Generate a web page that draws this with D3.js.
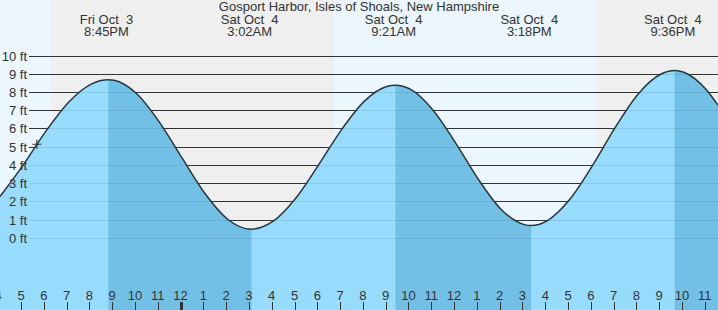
<!DOCTYPE html>
<html>
<head>
<meta charset="utf-8">
<title>Gosport Harbor tides</title>
<style>
body { margin: 0; background: #fff; }
svg { display: block; font-family: "Liberation Sans", Arial, sans-serif; }
</style>
<script src="https://cdn.jsdelivr.net/npm/d3@7"></script>
</head>
<body>
<svg id="chart" width="718" height="310"></svg>
<script>
const title = "Gosport Harbor, Isles of Shoals, New Hampshire";

// tide height (local time, feet)
const curveTimes = [
  "2025-10-03 16:00", "2025-10-03 17:00", "2025-10-03 18:00", "2025-10-03 19:00",
  "2025-10-03 20:00", "2025-10-03 20:45", "2025-10-03 21:00", "2025-10-03 22:00",
  "2025-10-03 23:00", "2025-10-04 00:00", "2025-10-04 01:00", "2025-10-04 02:00",
  "2025-10-04 03:00", "2025-10-04 03:02", "2025-10-04 04:00", "2025-10-04 05:00",
  "2025-10-04 06:00", "2025-10-04 07:00", "2025-10-04 08:00", "2025-10-04 09:00",
  "2025-10-04 09:21", "2025-10-04 10:00", "2025-10-04 11:00", "2025-10-04 12:00",
  "2025-10-04 13:00", "2025-10-04 14:00", "2025-10-04 15:00", "2025-10-04 15:18",
  "2025-10-04 16:00", "2025-10-04 17:00", "2025-10-04 18:00", "2025-10-04 19:00",
  "2025-10-04 20:00", "2025-10-04 21:00", "2025-10-04 21:36", "2025-10-04 22:00",
  "2025-10-04 23:00", "2025-10-04 23:30"
];
const curveHeights = [
  2.29, 3.99, 5.85, 7.45,
  8.46, 8.7, 8.67, 7.93,
  6.36, 4.38, 2.44, 1.03,
  0.5, 0.5, 0.95, 2.24,
  4.07, 5.99, 7.54, 8.34,
  8.4, 8.18, 7.03, 5.21,
  3.21, 1.57, 0.75, 0.7,
  0.96, 2.14, 4.0, 6.1,
  7.92, 9.01, 9.2, 9.11,
  8.13, 7.29
];

// high and low tide labels
const eventTimes = ["2025-10-03 20:45", "2025-10-04 03:02", "2025-10-04 09:21", "2025-10-04 15:18", "2025-10-04 21:36"];
const eventDays = ["Fri Oct  3", "Sat Oct  4", "Sat Oct  4", "Sat Oct  4", "Sat Oct  4"];
const eventClock = ["8:45PM", "3:02AM", "9:21AM", "3:18PM", "9:36PM"];

// night (sunset to sunrise)
const nightStarts = ["2025-10-03 18:14", "2025-10-04 18:11"];
const nightEnds = ["2025-10-04 06:39", "2025-10-04 23:30"];

// falling tide (high to low) drawn darker
const fallStarts = ["2025-10-03 20:45", "2025-10-04 09:21", "2025-10-04 21:36"];
const fallEnds = ["2025-10-04 03:02", "2025-10-04 15:18", "2025-10-04 23:30"];

const feetTicks = [0, 1, 2, 3, 4, 5, 6, 7, 8, 9, 10];
const markerTime = "2025-10-03 17:37";
const markerHeight = 5.16;

const width = 718, height = 310;
const parse = d3.timeParse("%Y-%m-%d %H:%M");
const labelShift = -1.8;
const fontSize = 13;

let x = d3.scaleTime()
  .domain([parse("2025-10-03 16:00"), parse("2025-10-04 23:30")])
  .range([0, width]);
let y = d3.scaleLinear().domain([0, 10]).range([238.3, 56]);

let svg = d3.select("#chart");
let points = curveTimes.map((t, i) => [parse(t), curveHeights[i]]);

// background: day and night
svg.append("rect").attr("width", width).attr("height", height).attr("fill", "#ebf6fe");
svg.selectAll(".night").data(nightStarts).join("rect")
  .attr("x", d => x(parse(d)))
  .attr("y", 0)
  .attr("width", (d, i) => x(parse(nightEnds[i])) - x(parse(d)))
  .attr("height", height)
  .attr("fill", "#efefef");

// foot lines
let rowY = d => Math.floor(y(d)) + 0.5;
svg.selectAll(".grid").data(feetTicks).join("line")
  .attr("x1", 29).attr("x2", width)
  .attr("y1", rowY).attr("y2", rowY)
  .attr("stroke", "#333").attr("stroke-width", 1);

// water
let area = d3.area().x(d => x(d[0])).y0(height).y1(d => y(d[1])).curve(d3.curveMonotoneX);
svg.append("clipPath").attr("id", "water").append("path").attr("d", area(points));
let water = svg.append("g").attr("clip-path", "url(#water)");
water.append("rect").attr("width", width).attr("height", height).attr("fill", "#97dbfd");
water.selectAll(".fall").data(fallStarts).join("rect")
  .attr("x", d => x(parse(d)))
  .attr("width", (d, i) => x(parse(fallEnds[i])) - x(parse(d)))
  .attr("height", height)
  .attr("fill", "#72c0e6");
water.selectAll(".wgrid").data(feetTicks).join("line")
  .attr("x1", 29).attr("x2", width)
  .attr("y1", rowY).attr("y2", rowY)
  .attr("stroke", "#000").attr("stroke-opacity", 0.09);

// tide line
let line = d3.line().x(d => x(d[0])).y(d => y(d[1])).curve(d3.curveMonotoneX);
svg.append("path").attr("d", line(points))
  .attr("fill", "none").attr("stroke", "#333").attr("stroke-width", 1.5);

// foot labels
svg.selectAll(".ylab").data(feetTicks).join("text")
  .attr("x", 27).attr("y", d => y(d)).attr("dy", "0.35em")
  .attr("text-anchor", "end").attr("font-size", fontSize).attr("fill", "#333")
  .text(d => d + " ft");

// current time marker
let mx = x(parse(markerTime)), my = y(markerHeight);
svg.append("path")
  .attr("d", `M${mx - 4.5},${my}H${mx + 4.5}M${mx},${my - 4.5}V${my + 4.5}`)
  .attr("stroke", "#333").attr("stroke-width", 1.2);

// title
svg.append("text").attr("x", width / 2).attr("y", 11)
  .attr("text-anchor", "middle").attr("font-size", fontSize).attr("fill", "#333")
  .text(title);

// high / low labels
let ev = svg.selectAll(".ev").data(eventTimes).join("g")
  .attr("transform", d => `translate(${x(parse(d)) + labelShift},0)`);
ev.append("text").attr("y", 24).attr("text-anchor", "middle")
  .attr("font-size", fontSize).attr("fill", "#333").style("white-space", "pre")
  .text((d, i) => eventDays[i]);
ev.append("text").attr("y", 36).attr("text-anchor", "middle")
  .attr("font-size", fontSize).attr("fill", "#333")
  .text((d, i) => eventClock[i]);

// hour axis
let hours = x.ticks(d3.timeHour.every(1));
let hx = d => Math.round(x(d) + labelShift) + 0.5;
let hourFormat = d3.timeFormat("%-I");
svg.selectAll(".htick").data(hours).join("line")
  .attr("x1", hx).attr("x2", hx)
  .attr("y1", 302).attr("y2", height)
  .attr("stroke", "#333")
  .attr("stroke-width", d => d.getHours() === 0 ? 3 : 1);
svg.selectAll(".hlab").data(hours).join("text")
  .attr("x", d => x(d) + labelShift).attr("y", 300)
  .attr("text-anchor", "middle").attr("font-size", fontSize).attr("fill", "#333")
  .text(d => hourFormat(d));
</script>
</body>
</html>
